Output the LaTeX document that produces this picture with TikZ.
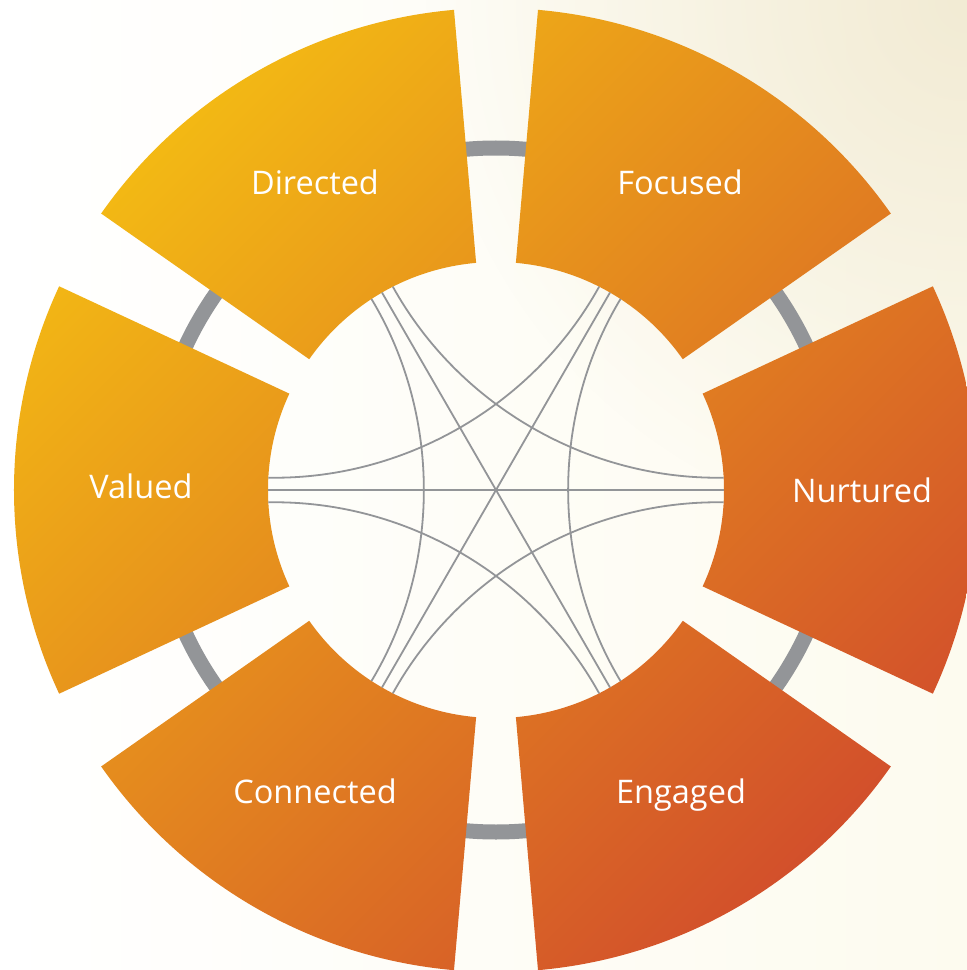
\documentclass[tikz,border=0pt]{standalone}
\usepackage{fontspec}
\setmainfont{Open Sans}
\usetikzlibrary{fadings}
\definecolor{ringgray}{HTML}{939598}
\definecolor{segyellow}{HTML}{F3B914}
\definecolor{segorange}{HTML}{E99C21}
\definecolor{segred}{HTML}{D24F2B}
\definecolor{cream}{HTML}{F2EBD4}
\definecolor{creamlight}{HTML}{FDFBEF}
\tikzfading[name=softglow, inner color=transparent!0, outer color=transparent!100]
\begin{document}
\begin{tikzpicture}[x=1pt,y=1pt,
  seglabel/.style={text=white, anchor=base, inner sep=0pt, font=\fontsize{32.5}{38}\selectfont},
  chord/.style={draw=ringgray, line width=1.8pt},
  arcchord/.style={chord, bend left=31, looseness=0.91},
]
\useasboundingbox (-496,-480) rectangle (471,490);
% background
\begin{scope}
  \clip (-496,-480) rectangle (471,490);
  \shade[left color=white, right color=creamlight] (-496,-480) rectangle (471,490);
  \fill[cream, path fading=softglow] (471,490) circle (540);
\end{scope}
% gray ring
\draw[ringgray, line width=15pt] (0,0) circle (342);
% six segments
\shade[top color=segyellow, middle color=segorange, bottom color=segred, shading angle=45]
  foreach \ang in {0,60,...,300} {
    ({\ang-25}:228) -- ({\ang-25}:482)
    arc[start angle={\ang-25}, end angle={\ang+25}, radius=482pt]
    -- ({\ang+25}:228)
    arc[start angle={\ang+25}, end angle={\ang-25}, radius=228pt] -- cycle
  };
% endpoints on the inner circle
\foreach \k in {0,...,5} {
  \coordinate (m\k) at ({60*\k}:228);
  \coordinate (lo\k) at ({60*\k-3.1}:228);
  \coordinate (hi\k) at ({60*\k+3.1}:228);
}
% diameters
\draw[chord] (m0) -- (m3);
\draw[chord] (m1) -- (m4);
\draw[chord] (m2) -- (m5);
% curved chords
\draw[arcchord] (hi5) to (lo1);
\draw[arcchord] (hi0) to (lo2);
\draw[arcchord] (hi1) to (lo3);
\draw[arcchord] (hi2) to (lo4);
\draw[arcchord] (hi3) to (lo5);
\draw[arcchord] (hi4) to (lo0);
% labels
\node[seglabel] (lblDirected)  at (-181, 295) {Directed};
\node[seglabel] (lblFocused)   at (184, 295)  {Focused};
\node[seglabel] (lblValued)    at (-355, -8)  {Valued};
\node[seglabel] (lblNurtured)  at (366, -12)  {Nurtured};
\node[seglabel] (lblConnected) at (-181, -313) {Connected};
\node[seglabel] (lblEngaged)   at (185, -313) {Engaged};
\end{tikzpicture}
\end{document}
